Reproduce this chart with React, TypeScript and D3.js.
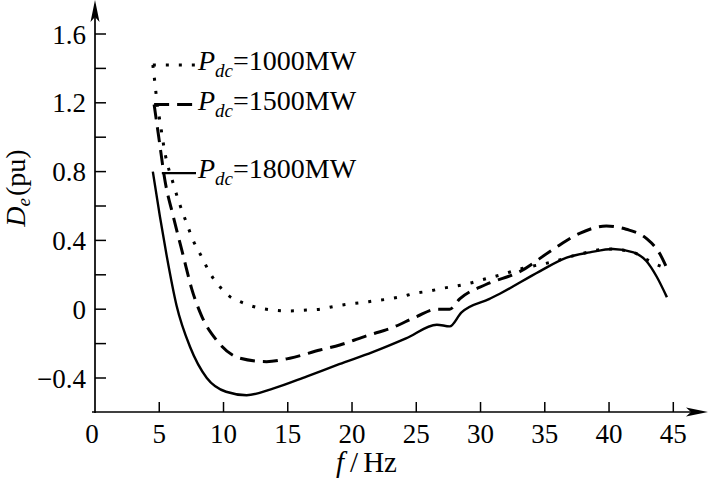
import React, { useEffect } from "react";
import * as d3 from "d3";

// ---- data ----
const xTickValues = [0, 5, 10, 15, 20, 25, 30, 35, 40, 45];
const yTickValues = [-0.4, -0.2, 0, 0.2, 0.4, 0.6, 0.8, 1.0, 1.2, 1.4, 1.6];
const yLabelValues = [-0.4, 0, 0.4, 0.8, 1.2, 1.6];

const seriesNames = ["1000MW", "1500MW", "1800MW"];

const f1000 = [4.5, 4.67, 4.8, 5.1, 5.44, 6.09, 6.48, 7.13, 7.64, 8.3, 8.94, 9.72, 10.5, 11.28, 12.31, 13.86, 15.16, 16.46, 17.5, 18.53, 19.57, 20.74, 21.77, 22.81, 23.85, 24.88, 26.05, 27.08, 28.13, 29.16, 30.07, 31.24, 33.3, 35.64, 37.7, 40.0, 41.9, 42.9, 43.8, 44.5];
const de1000 = [1.42, 1.31, 1.22, 1.07, 0.91, 0.73, 0.635, 0.5, 0.4, 0.305, 0.21, 0.13, 0.073, 0.044, 0.016, -0.005, -0.01, -0.005, 0.0, 0.015, 0.028, 0.038, 0.049, 0.059, 0.073, 0.092, 0.106, 0.122, 0.135, 0.151, 0.17, 0.193, 0.238, 0.276, 0.32, 0.35, 0.33, 0.29, 0.256, 0.238];

const f1500 = [4.6, 5.0, 5.44, 6.09, 6.87, 7.52, 8.3, 9.46, 11.28, 13.35, 15.16, 17.5, 19.05, 21.13, 23.2, 25.0, 26.57, 27.6, 28.38, 30.46, 33.05, 35.64, 37.71, 39.79, 41.34, 42.9, 43.93, 44.45];
const de1500 = [1.19, 0.98, 0.75, 0.54, 0.31, 0.12, -0.04, -0.18, -0.285, -0.305, -0.285, -0.237, -0.208, -0.155, -0.105, -0.044, 0.0, 0.0, 0.06, 0.145, 0.218, 0.348, 0.441, 0.484, 0.465, 0.412, 0.325, 0.247];

const f1800 = [4.5, 5.05, 5.58, 6.35, 7.4, 8.7, 10.2, 11.8, 13.9, 16.5, 19.0, 21.6, 24.2, 26.6, 27.6, 28.5, 30.7, 31.5, 34.6, 36.7, 38.5, 40.3, 41.9, 42.9, 43.7, 44.5];
const de1800 = [0.8, 0.54, 0.31, 0.02, -0.22, -0.4, -0.48, -0.5, -0.46, -0.39, -0.32, -0.25, -0.17, -0.09, -0.1, -0.02, 0.06, 0.09, 0.22, 0.3, 0.33, 0.35, 0.33, 0.28, 0.19, 0.07];

const seriesF = [f1000, f1500, f1800];
const seriesV = [de1000, de1500, de1800];
const dashes = ["3,10", "15,8", "none"];

const FONT = "'Liberation Serif', 'Times New Roman', serif";

export default function App() {
  useEffect(() => {
    document.body.style.margin = "0";
  }, []);

  const W = 711;
  const H = 484;
  const x = d3.scaleLinear().domain([0, 45]).range([95, 673.3]);
  const y = d3.scaleLinear().domain([-0.4, 1.6]).range([378, 34]);
  const axisY = 412;
  const axisX = x(0);

  const line = d3
    .line<[number, number]>()
    .x((d) => x(d[0]))
    .y((d) => y(d[1]))
    .curve(d3.curveMonotoneX);

  const fmt = (v: number) => (v < 0 ? "\u2212" + Math.abs(v).toString() : v.toString());

  return (
    <svg
      width={W}
      height={H}
      style={{ display: "block", position: "absolute", left: 0, top: 0, background: "#fff" }}
      fontFamily={FONT}
    >
      <rect x={0} y={0} width={W} height={H} fill="#fff" />
      {/* axes */}
      <line x1={axisX} y1={axisY + 1} x2={axisX} y2={6} stroke="#000" strokeWidth={1.7} />
      <path d={`M${axisX},0 L${axisX - 4.5},22 L${axisX},17 L${axisX + 4.5},22 Z`} fill="#000" />
      <line x1={axisX - 3} y1={axisY} x2={701} y2={axisY} stroke="#000" strokeWidth={1.7} />
      <path d={`M708,${axisY} L686,${axisY - 4.5} L691,${axisY} L686,${axisY + 4.5} Z`} fill="#000" />

      {/* x ticks */}
      {xTickValues.map((t) => (
        <g key={"xt" + t}>
          {t > 0 && (
            <line x1={x(t)} x2={x(t)} y1={axisY} y2={axisY - 10} stroke="#000" strokeWidth={1.5} />
          )}
          <text x={x(t) - (t === 0 ? 3 : 0)} y={443} fontSize={27} textAnchor="middle" fill="#000">
            {t}
          </text>
        </g>
      ))}

      {/* y ticks */}
      {yTickValues.map((t) => (
        <line key={"yt" + t} x1={axisX} x2={axisX + 11} y1={y(t)} y2={y(t)} stroke="#000" strokeWidth={1.5} />
      ))}
      {yLabelValues.map((t) => (
        <text key={"yl" + t} x={86} y={y(t) + 9.5} fontSize={27} textAnchor="end" fill="#000">
          {fmt(t)}
        </text>
      ))}

      {/* axis titles */}
      <text transform="translate(25,188) rotate(-90)" fontSize={28} textAnchor="middle" fill="#000">
        <tspan fontStyle="italic">D</tspan>
        <tspan fontStyle="italic" fontSize={19} dy={5}>e</tspan>
        <tspan dy={-5} dx={2}>(pu)</tspan>
      </text>
      <text x={336} y={472} fontSize={29} fill="#000">
        <tspan fontStyle="italic">f</tspan>
        <tspan dx={6}>/</tspan>
        <tspan dx={5}>Hz</tspan>
      </text>

      {/* curves */}
      {seriesF.map((fs, i) => {
        const pts: [number, number][] = fs.map((f, j) => [f, seriesV[i][j]]);
        return (
          <path
            key={"c" + i}
            d={line(pts) || ""}
            fill="none"
            stroke="#000"
            strokeWidth={i === 2 ? 2.4 : 3}
            strokeDasharray={dashes[i] === "none" ? undefined : dashes[i]}
            strokeLinecap="butt"
          />
        );
      })}

      {/* legend */}
      {seriesF.map((fs, i) => {
        const x0 = x(fs[0]);
        const y0 = y(seriesV[i][0]) + (i === 2 ? 1.5 : 0);
        return (
          <g key={"lg" + i}>
            <line
              x1={x0 + (i === 2 ? 9 : 0)}
              x2={196}
              y1={y0}
              y2={y0}
              stroke="#000"
              strokeWidth={i === 2 ? 2.4 : 3}
              strokeDasharray={dashes[i] === "none" ? undefined : dashes[i]}
            />
            <text x={198} y={y0 + 5} fontSize={28} fill="#000">
              <tspan fontStyle="italic">P</tspan>
              <tspan fontStyle="italic" fontSize={19} dy={7}>dc</tspan>
              <tspan dy={-7}>={seriesNames[i]}</tspan>
            </text>
          </g>
        );
      })}
    </svg>
  );
}
